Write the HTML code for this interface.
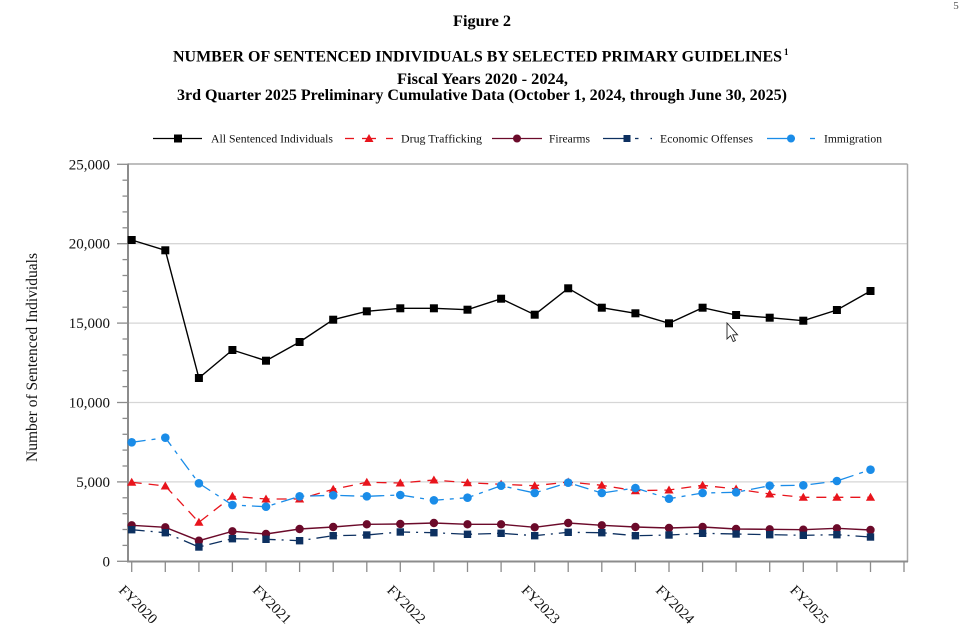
<!DOCTYPE html>
<html><head><meta charset="utf-8"><style>
html,body{margin:0;padding:0;background:#fff;}
svg{display:block;font-family:"Liberation Serif","Times New Roman",serif;}
</style></head><body>
<svg width="962" height="641" viewBox="0 0 962 641" xmlns="http://www.w3.org/2000/svg">
<rect width="962" height="641" fill="#fff"/>
<text x="956" y="9" font-size="11" fill="#555" text-anchor="middle">5</text>
<!-- Titles -->
<text x="453" y="26" font-size="16" font-weight="bold" textLength="58" lengthAdjust="spacingAndGlyphs">Figure 2</text>
<text x="173" y="61.5" font-size="16" font-weight="bold" textLength="609" lengthAdjust="spacingAndGlyphs">NUMBER OF SENTENCED INDIVIDUALS BY SELECTED PRIMARY GUIDELINES</text>
<text x="784" y="55" font-size="9" font-weight="bold">1</text>
<text x="397" y="84" font-size="16" font-weight="bold" textLength="171" lengthAdjust="spacingAndGlyphs">Fiscal Years 2020 - 2024,</text>
<text x="177" y="100" font-size="16" font-weight="bold" textLength="610" lengthAdjust="spacingAndGlyphs">3rd Quarter 2025 Preliminary Cumulative Data (October 1, 2024, through June 30, 2025)</text>

<!-- Legend -->
<g font-size="12" fill="#111">
<line x1="153" y1="138.5" x2="202" y2="138.5" stroke="#000" stroke-width="1.3"/>
<rect x="174" y="134.5" width="8" height="8" fill="#000"/>
<text x="211" y="142.5" textLength="122" lengthAdjust="spacingAndGlyphs">All Sentenced Individuals</text>
<line x1="345" y1="138.5" x2="354" y2="138.5" stroke="#e8141c" stroke-width="1.3"/>
<line x1="362" y1="138.5" x2="376" y2="138.5" stroke="#e8141c" stroke-width="1.3"/>
<line x1="386" y1="138.5" x2="393" y2="138.5" stroke="#e8141c" stroke-width="1.3"/>
<path d="M369 134 L373.5 142 L364.5 142 Z" fill="#e8141c"/>
<text x="401" y="142.5" textLength="81" lengthAdjust="spacingAndGlyphs">Drug Trafficking</text>
<line x1="492" y1="138.5" x2="542" y2="138.5" stroke="#6b0a2a" stroke-width="1.3"/>
<circle cx="517" cy="138.5" r="4" fill="#6b0a2a"/>
<text x="549" y="142.5" textLength="41" lengthAdjust="spacingAndGlyphs">Firearms</text>
<line x1="603" y1="138.5" x2="624" y2="138.5" stroke="#0d3060" stroke-width="1.3"/>
<rect x="623.5" y="135" width="7" height="7" fill="#0d3060"/>
<line x1="635" y1="138.5" x2="638.5" y2="138.5" stroke="#0d3060" stroke-width="1.3"/>
<line x1="650.5" y1="138.5" x2="652" y2="138.5" stroke="#0d3060" stroke-width="1.3"/>
<text x="660" y="142.5" textLength="93" lengthAdjust="spacingAndGlyphs">Economic Offenses</text>
<line x1="767" y1="138.5" x2="782" y2="138.5" stroke="#1a8ce8" stroke-width="1.3"/>
<line x1="782" y1="138.5" x2="795" y2="138.5" stroke="#1a8ce8" stroke-width="1.3"/>
<circle cx="791" cy="138.5" r="4" fill="#1a8ce8"/>
<line x1="810" y1="138.5" x2="815" y2="138.5" stroke="#1a8ce8" stroke-width="1.3"/>
<text x="824" y="142.5" textLength="58" lengthAdjust="spacingAndGlyphs">Immigration</text>
</g>

<!-- Gridlines -->
<g stroke="#d6d6d6" stroke-width="1.3">
<line x1="128" y1="481.9" x2="907" y2="481.9"/>
<line x1="128" y1="402.5" x2="907" y2="402.5"/>
<line x1="128" y1="323.1" x2="907" y2="323.1"/>
<line x1="128" y1="243.7" x2="907" y2="243.7"/>
</g>
<!-- Frame -->
<line x1="128" y1="164" x2="907.5" y2="164" stroke="#a8a8a8" stroke-width="1.5"/>
<line x1="907.5" y1="164" x2="907.5" y2="562" stroke="#a8a8a8" stroke-width="1.5"/>
<line x1="128" y1="163.5" x2="128" y2="562" stroke="#8c8c8c" stroke-width="2"/>
<line x1="127" y1="561.5" x2="908" y2="561.5" stroke="#8c8c8c" stroke-width="2"/>

<!-- Y ticks -->
<g stroke="#8c8c8c" stroke-width="1.3">
<line x1="117" y1="561.3" x2="128" y2="561.3"/>
<line x1="122.5" y1="545.4" x2="128" y2="545.4"/>
<line x1="122.5" y1="529.5" x2="128" y2="529.5"/>
<line x1="122.5" y1="513.7" x2="128" y2="513.7"/>
<line x1="122.5" y1="497.8" x2="128" y2="497.8"/>
<line x1="117" y1="481.9" x2="128" y2="481.9"/>
<line x1="122.5" y1="466.0" x2="128" y2="466.0"/>
<line x1="122.5" y1="450.1" x2="128" y2="450.1"/>
<line x1="122.5" y1="434.3" x2="128" y2="434.3"/>
<line x1="122.5" y1="418.4" x2="128" y2="418.4"/>
<line x1="117" y1="402.5" x2="128" y2="402.5"/>
<line x1="122.5" y1="386.6" x2="128" y2="386.6"/>
<line x1="122.5" y1="370.7" x2="128" y2="370.7"/>
<line x1="122.5" y1="354.9" x2="128" y2="354.9"/>
<line x1="122.5" y1="339.0" x2="128" y2="339.0"/>
<line x1="117" y1="323.1" x2="128" y2="323.1"/>
<line x1="122.5" y1="307.2" x2="128" y2="307.2"/>
<line x1="122.5" y1="291.3" x2="128" y2="291.3"/>
<line x1="122.5" y1="275.5" x2="128" y2="275.5"/>
<line x1="122.5" y1="259.6" x2="128" y2="259.6"/>
<line x1="117" y1="243.7" x2="128" y2="243.7"/>
<line x1="122.5" y1="227.8" x2="128" y2="227.8"/>
<line x1="122.5" y1="211.9" x2="128" y2="211.9"/>
<line x1="122.5" y1="196.1" x2="128" y2="196.1"/>
<line x1="122.5" y1="180.2" x2="128" y2="180.2"/>
<line x1="117" y1="164.3" x2="128" y2="164.3"/>
</g>
<g font-size="15" fill="#111" text-anchor="end">
<text x="110" y="566.3">0</text>
<text x="110" y="486.9">5,000</text>
<text x="110" y="407.5">10,000</text>
<text x="110" y="328.1">15,000</text>
<text x="110" y="248.7">20,000</text>
<text x="110" y="169.3">25,000</text>
</g>
<text transform="translate(37,462) rotate(-90)" font-size="15.5" fill="#111" textLength="209" lengthAdjust="spacingAndGlyphs">Number of Sentenced Individuals</text>

<!-- X ticks -->
<g stroke="#8c8c8c" stroke-width="1.3">
<line x1="131.7" y1="562" x2="131.7" y2="572"/><line x1="165.3" y1="562" x2="165.3" y2="572"/>
<line x1="198.9" y1="562" x2="198.9" y2="572"/><line x1="232.4" y1="562" x2="232.4" y2="572"/>
<line x1="266" y1="562" x2="266" y2="572"/><line x1="299.6" y1="562" x2="299.6" y2="572"/>
<line x1="333.2" y1="562" x2="333.2" y2="572"/><line x1="366.8" y1="562" x2="366.8" y2="572"/>
<line x1="400.3" y1="562" x2="400.3" y2="572"/><line x1="433.9" y1="562" x2="433.9" y2="572"/>
<line x1="467.5" y1="562" x2="467.5" y2="572"/><line x1="501.1" y1="562" x2="501.1" y2="572"/>
<line x1="534.7" y1="562" x2="534.7" y2="572"/><line x1="568.2" y1="562" x2="568.2" y2="572"/>
<line x1="601.8" y1="562" x2="601.8" y2="572"/><line x1="635.4" y1="562" x2="635.4" y2="572"/>
<line x1="669" y1="562" x2="669" y2="572"/><line x1="702.6" y1="562" x2="702.6" y2="572"/>
<line x1="736.1" y1="562" x2="736.1" y2="572"/><line x1="769.7" y1="562" x2="769.7" y2="572"/>
<line x1="803.3" y1="562" x2="803.3" y2="572"/><line x1="836.9" y1="562" x2="836.9" y2="572"/>
<line x1="870.5" y1="562" x2="870.5" y2="572"/><line x1="904" y1="562" x2="904" y2="572"/>
</g>
<g font-size="14.5" fill="#111">
<text transform="translate(118,591) rotate(45)">FY2020</text>
<text transform="translate(252,591) rotate(45)">FY2021</text>
<text transform="translate(386.3,591) rotate(45)">FY2022</text>
<text transform="translate(520.7,591) rotate(45)">FY2023</text>
<text transform="translate(655,591) rotate(45)">FY2024</text>
<text transform="translate(789.3,591) rotate(45)">FY2025</text>
</g>

<!-- All Sentenced -->
<polyline fill="none" stroke="#000" stroke-width="1.4" points="131.7,240 165.3,250.3 198.9,378 232.4,350 266,360.7 299.6,342 333.2,319.7 366.8,311.3 400.3,308.3 433.9,308.3 467.5,309.7 501.1,298.7 534.7,314.7 568.2,288.3 601.8,307.7 635.4,313.3 669,323.3 702.6,307.7 736.1,315 769.7,317.7 803.3,320.7 836.9,310 870.5,291"/>
<g fill="#000">
<rect x="127.7" y="236" width="8" height="8"/><rect x="161.3" y="246.3" width="8" height="8"/><rect x="194.9" y="374" width="8" height="8"/><rect x="228.4" y="346" width="8" height="8"/><rect x="262" y="356.7" width="8" height="8"/><rect x="295.6" y="338" width="8" height="8"/><rect x="329.2" y="315.7" width="8" height="8"/><rect x="362.8" y="307.3" width="8" height="8"/><rect x="396.3" y="304.3" width="8" height="8"/><rect x="429.9" y="304.3" width="8" height="8"/><rect x="463.5" y="305.7" width="8" height="8"/><rect x="497.1" y="294.7" width="8" height="8"/><rect x="530.7" y="310.7" width="8" height="8"/><rect x="564.2" y="284.3" width="8" height="8"/><rect x="597.8" y="303.7" width="8" height="8"/><rect x="631.4" y="309.3" width="8" height="8"/><rect x="665" y="319.3" width="8" height="8"/><rect x="698.6" y="303.7" width="8" height="8"/><rect x="732.1" y="311" width="8" height="8"/><rect x="765.7" y="313.7" width="8" height="8"/><rect x="799.3" y="316.7" width="8" height="8"/><rect x="832.9" y="306" width="8" height="8"/><rect x="866.5" y="287" width="8" height="8"/>
</g>

<!-- Drug Trafficking -->
<polyline fill="none" stroke="#e8141c" stroke-width="1.3" stroke-dasharray="10,7" points="131.7,482.3 165.3,486 198.9,522.3 232.4,496.3 266,499 299.6,499 333.2,489.3 366.8,482.3 400.3,483 433.9,480 467.5,482.7 501.1,484.3 534.7,485.7 568.2,482 601.8,485.3 635.4,490.7 669,490 702.6,485.3 736.1,489 769.7,494 803.3,497.3 836.9,497.3 870.5,497.3"/>
<g fill="#e8141c">
<path d="M131.7 477.8l4.6 8h-9.2z"/><path d="M165.3 481.5l4.6 8h-9.2z"/><path d="M198.9 517.8l4.6 8h-9.2z"/><path d="M232.4 491.8l4.6 8h-9.2z"/><path d="M266 494.5l4.6 8h-9.2z"/><path d="M299.6 494.5l4.6 8h-9.2z"/><path d="M333.2 484.8l4.6 8h-9.2z"/><path d="M366.8 477.8l4.6 8h-9.2z"/><path d="M400.3 478.5l4.6 8h-9.2z"/><path d="M433.9 475.5l4.6 8h-9.2z"/><path d="M467.5 478.2l4.6 8h-9.2z"/><path d="M501.1 479.8l4.6 8h-9.2z"/><path d="M534.7 481.2l4.6 8h-9.2z"/><path d="M568.2 477.5l4.6 8h-9.2z"/><path d="M601.8 480.8l4.6 8h-9.2z"/><path d="M635.4 486.2l4.6 8h-9.2z"/><path d="M669 485.5l4.6 8h-9.2z"/><path d="M702.6 480.8l4.6 8h-9.2z"/><path d="M736.1 484.5l4.6 8h-9.2z"/><path d="M769.7 489.5l4.6 8h-9.2z"/><path d="M803.3 492.8l4.6 8h-9.2z"/><path d="M836.9 492.8l4.6 8h-9.2z"/><path d="M870.5 492.8l4.6 8h-9.2z"/>
</g>

<!-- Firearms -->
<polyline fill="none" stroke="#6b0a2a" stroke-width="1.4" points="131.7,525.3 165.3,527.3 198.9,540.7 232.4,531.3 266,534 299.6,529 333.2,527 366.8,524.3 400.3,524 433.9,523 467.5,524.3 501.1,524.3 534.7,527.3 568.2,523 601.8,525.3 635.4,527 669,528 702.6,527 736.1,529 769.7,529.3 803.3,529.7 836.9,528.3 870.5,530"/>
<g fill="#6b0a2a">
<circle cx="131.7" cy="525.3" r="4.2"/><circle cx="165.3" cy="527.3" r="4.2"/><circle cx="198.9" cy="540.7" r="4.2"/><circle cx="232.4" cy="531.3" r="4.2"/><circle cx="266" cy="534" r="4.2"/><circle cx="299.6" cy="529" r="4.2"/><circle cx="333.2" cy="527" r="4.2"/><circle cx="366.8" cy="524.3" r="4.2"/><circle cx="400.3" cy="524" r="4.2"/><circle cx="433.9" cy="523" r="4.2"/><circle cx="467.5" cy="524.3" r="4.2"/><circle cx="501.1" cy="524.3" r="4.2"/><circle cx="534.7" cy="527.3" r="4.2"/><circle cx="568.2" cy="523" r="4.2"/><circle cx="601.8" cy="525.3" r="4.2"/><circle cx="635.4" cy="527" r="4.2"/><circle cx="669" cy="528" r="4.2"/><circle cx="702.6" cy="527" r="4.2"/><circle cx="736.1" cy="529" r="4.2"/><circle cx="769.7" cy="529.3" r="4.2"/><circle cx="803.3" cy="529.7" r="4.2"/><circle cx="836.9" cy="528.3" r="4.2"/><circle cx="870.5" cy="530" r="4.2"/>
</g>

<!-- Economic Offenses -->
<polyline fill="none" stroke="#0d3060" stroke-width="1.3" stroke-dasharray="13,6,2,6" points="131.7,529.7 165.3,532.7 198.9,547 232.4,538.7 266,539.3 299.6,540.7 333.2,535.7 366.8,535 400.3,532 433.9,532.7 467.5,534.3 501.1,533.3 534.7,535.7 568.2,532.3 601.8,532.7 635.4,535.7 669,535 702.6,533.3 736.1,534 769.7,534.7 803.3,535.3 836.9,534.7 870.5,537"/>
<g fill="#0d3060">
<rect x="128" y="526" width="7.4" height="7.4"/><rect x="161.6" y="529" width="7.4" height="7.4"/><rect x="195.2" y="543.3" width="7.4" height="7.4"/><rect x="228.7" y="535" width="7.4" height="7.4"/><rect x="262.3" y="535.6" width="7.4" height="7.4"/><rect x="295.9" y="537" width="7.4" height="7.4"/><rect x="329.5" y="532" width="7.4" height="7.4"/><rect x="363.1" y="531.3" width="7.4" height="7.4"/><rect x="396.6" y="528.3" width="7.4" height="7.4"/><rect x="430.2" y="529" width="7.4" height="7.4"/><rect x="463.8" y="530.6" width="7.4" height="7.4"/><rect x="497.4" y="529.6" width="7.4" height="7.4"/><rect x="531" y="532" width="7.4" height="7.4"/><rect x="564.5" y="528.6" width="7.4" height="7.4"/><rect x="598.1" y="529" width="7.4" height="7.4"/><rect x="631.7" y="532" width="7.4" height="7.4"/><rect x="665.3" y="531.3" width="7.4" height="7.4"/><rect x="698.9" y="529.6" width="7.4" height="7.4"/><rect x="732.4" y="530.3" width="7.4" height="7.4"/><rect x="766" y="531" width="7.4" height="7.4"/><rect x="799.6" y="531.6" width="7.4" height="7.4"/><rect x="833.2" y="531" width="7.4" height="7.4"/><rect x="866.8" y="533.3" width="7.4" height="7.4"/>
</g>

<!-- Immigration -->
<polyline fill="none" stroke="#1a8ce8" stroke-width="1.3" stroke-dasharray="14,6,4,6" points="131.7,442.3 165.3,437.7 198.9,483.3 232.4,505 266,506.7 299.6,496.3 333.2,495.3 366.8,496.3 400.3,495 433.9,500.3 467.5,497.7 501.1,485.7 534.7,493 568.2,482.7 601.8,493 635.4,488 669,498.7 702.6,493 736.1,492.3 769.7,485.7 803.3,485.3 836.9,481 870.5,469.7"/>
<g fill="#1a8ce8">
<circle cx="131.7" cy="442.3" r="4.3"/><circle cx="165.3" cy="437.7" r="4.3"/><circle cx="198.9" cy="483.3" r="4.3"/><circle cx="232.4" cy="505" r="4.3"/><circle cx="266" cy="506.7" r="4.3"/><circle cx="299.6" cy="496.3" r="4.3"/><circle cx="333.2" cy="495.3" r="4.3"/><circle cx="366.8" cy="496.3" r="4.3"/><circle cx="400.3" cy="495" r="4.3"/><circle cx="433.9" cy="500.3" r="4.3"/><circle cx="467.5" cy="497.7" r="4.3"/><circle cx="501.1" cy="485.7" r="4.3"/><circle cx="534.7" cy="493" r="4.3"/><circle cx="568.2" cy="482.7" r="4.3"/><circle cx="601.8" cy="493" r="4.3"/><circle cx="635.4" cy="488" r="4.3"/><circle cx="669" cy="498.7" r="4.3"/><circle cx="702.6" cy="493" r="4.3"/><circle cx="736.1" cy="492.3" r="4.3"/><circle cx="769.7" cy="485.7" r="4.3"/><circle cx="803.3" cy="485.3" r="4.3"/><circle cx="836.9" cy="481" r="4.3"/><circle cx="870.5" cy="469.7" r="4.3"/>
</g>

<!-- Cursor -->
<path d="M727 323 L727 339 L730.6 335.6 L733.2 341.5 L735.4 340.5 L732.8 334.8 L737.6 334.8 Z" fill="#fff" stroke="#222" stroke-width="0.9"/>
</svg>
</body></html>
